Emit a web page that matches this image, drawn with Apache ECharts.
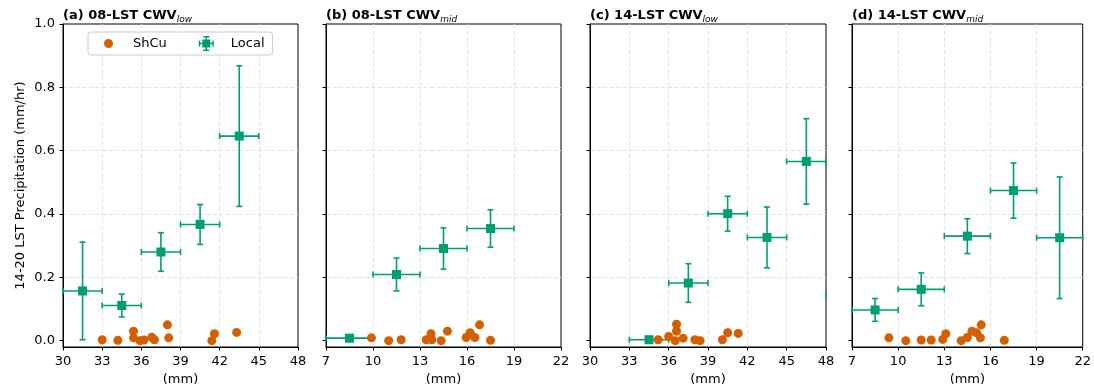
<!DOCTYPE html>
<html>
<head>
<meta charset="utf-8">
<script src="https://cdn.jsdelivr.net/npm/echarts@6/dist/echarts.min.js"></script>
<style>
html,body{margin:0;padding:0;background:#fff;}
#c{width:1094px;height:391px;}
</style>
</head>
<body>
<div id="c"></div>
<script>
// ---------------- data ----------------
const panelTitles = ['(a) 08-LST CWV', '(b) 08-LST CWV', '(c) 14-LST CWV', '(d) 14-LST CWV'];
const panelSubs = ['low', 'mid', 'low', 'mid'];
const xRanges = [[30, 48], [7, 22], [30, 48], [7, 22]];
const xStep = 3;
const yTickValues = [0, 0.2, 0.4, 0.6, 0.8, 1.0];
const yAxisName = '14-20 LST Precipitation (mm/hr)';
const xAxisName = '(mm)';
const legendNames = ['ShCu', 'Local'];

// ShCu points [x, y]
const shcuA = [[33.0,0.003],[34.2,0.001],[35.4,0.030],[35.4,0.009],[35.9,0.000],[36.2,0.002],[36.8,0.011],[37.0,0.003],[38.0,0.050],[38.1,0.009],[41.4,0.000],[41.6,0.022],[43.3,0.026]];
const shcuB = [[9.9,0.009],[11.0,0.000],[11.8,0.003],[13.4,0.003],[13.7,0.022],[13.75,0.003],[14.35,0.000],[14.75,0.030],[15.95,0.010],[16.2,0.025],[16.5,0.010],[16.8,0.050],[17.5,0.001]];
const shcuC = [[35.2,0.003],[36.0,0.013],[36.6,0.052],[36.6,0.030],[36.5,0.000],[37.1,0.008],[38.0,0.003],[38.4,0.000],[40.1,0.003],[40.5,0.025],[41.3,0.023]];
const shcuD = [[9.4,0.009],[10.5,0.000],[11.5,0.002],[12.15,0.002],[12.9,0.004],[13.1,0.022],[14.1,0.000],[14.5,0.010],[14.8,0.030],[15.1,0.025],[15.35,0.009],[15.4,0.050],[16.9,0.001]];

// Local bins: centre x, mean y, y error (half), x half-width
const localAX = [31.5, 34.5, 37.5, 40.5, 43.5];
const localAY = [0.157, 0.111, 0.280, 0.367, 0.646];
const localAYerr = [0.154, 0.036, 0.061, 0.063, 0.222];
const localBX = [8.5, 11.5, 14.5, 17.5];
const localBY = [0.008, 0.209, 0.291, 0.354];
const localBYerr = [0.003, 0.052, 0.065, 0.059];
const localCX = [34.5, 37.5, 40.5, 43.5, 46.5, 49.5];
const localCY = [0.003, 0.182, 0.401, 0.326, 0.566, 0.146];
const localCYerr = [0.003, 0.061, 0.055, 0.096, 0.135, 0.05];
const localDX = [8.5, 11.5, 14.5, 17.5, 20.5];
const localDY = [0.097, 0.162, 0.330, 0.474, 0.325];
const localDYerr = [0.036, 0.052, 0.055, 0.087, 0.192];
const xHalfWidth = 1.5;

// ---------------- chart ----------------
const FONT = 'DejaVu Sans';
const ORANGE = '#D55E00';
const GREEN = '#009E73';

const shcuSets = [shcuA, shcuB, shcuC, shcuD];
const localSets = [
  [localAX, localAY, localAYerr],
  [localBX, localBY, localBYerr],
  [localCX, localCY, localCYerr],
  [localDX, localDY, localDYerr]
];

const gridPos = [
  {left: 63, top: 24, width: 235, height: 323},
  {left: 326, top: 24, width: 235, height: 323},
  {left: 590, top: 24, width: 236, height: 323},
  {left: 852, top: 24, width: 235, height: 323}
];

function renderErr(params, api) {
  const cs = params.coordSys;
  const X0 = cs.x - 0.5, X1 = cs.x + cs.width + 0.5, Y0 = cs.y - 0.5, Y1 = cs.y + cs.height + 0.5;
  const x = api.value(0), y = api.value(1);
  const xl = api.value(2), xh = api.value(3), yl = api.value(4), yh = api.value(5);
  const pL = api.coord([xl, y]), pR = api.coord([xh, y]);
  const pB = api.coord([x, yl]), pT = api.coord([x, yh]);
  const c = 3;
  const st = {stroke: GREEN, lineWidth: 1.6};
  const ln = (x1, y1, x2, y2) => ({type: 'line', shape: {x1, y1, x2, y2}, style: st});
  const kids = [];
  const inX = v => v >= X0 && v <= X1;
  const inY = v => v >= Y0 && v <= Y1;
  // horizontal bar (clipped to plot)
  if (inY(pL[1])) {
    const a = Math.max(pL[0], X0 + 0.5), b = Math.min(pR[0], X1 - 0.5);
    if (b > a) kids.push(ln(a, pL[1], b, pL[1]));
    if (inX(pL[0])) kids.push(ln(pL[0], pL[1] - c, pL[0], pL[1] + c));
    if (inX(pR[0])) kids.push(ln(pR[0], pR[1] - c, pR[0], pR[1] + c));
  }
  if (inX(pB[0])) {
    kids.push(ln(pB[0], pB[1], pT[0], pT[1]));
    kids.push(ln(pB[0] - c, pB[1], pB[0] + c, pB[1]));
    kids.push(ln(pT[0] - c, pT[1], pT[0] + c, pT[1]));
  }
  return {type: 'group', children: kids};
}

const titles = panelTitles.map((t, i) => ({
  left: gridPos[i].left,
  top: 4,
  padding: 0,
  text: '{b|' + t + '}{s|' + panelSubs[i] + '}',
  textStyle: {
    rich: {
      b: {fontFamily: FONT, fontSize: 13, fontWeight: 'bold', color: '#000', lineHeight: 18, verticalAlign: 'bottom'},
      s: {fontFamily: FONT, fontSize: 9, fontWeight: 'normal', fontStyle: 'italic', color: '#000', lineHeight: 18, verticalAlign: 'bottom', padding: [0, 0, -2, 0]}
    }
  }
}));

const splitLineStyle = {show: true, showMinLine: false, showMaxLine: false,
  lineStyle: {color: '#e2e2e2', type: [4, 2.5], width: 1}};

const xAxes = xRanges.map((r, i) => ({
  type: 'value', gridIndex: i, min: r[0], max: r[1], interval: xStep,
  name: xAxisName, nameLocation: 'middle', nameGap: 26,
  nameTextStyle: {fontFamily: FONT, fontSize: 13, color: '#000'},
  axisLine: {show: true, onZero: false, lineStyle: {color: '#000', width: 1}},
  axisTick: {show: true, length: 3.5, lineStyle: {color: '#000'}},
  axisLabel: {fontFamily: FONT, fontSize: 13, color: '#000', margin: 8, showMinLabel: true, showMaxLabel: true},
  splitLine: splitLineStyle
}));

const yAxes = xRanges.map((r, i) => ({
  type: 'value', gridIndex: i, min: -0.02, max: 1.0, splitNumber: 5,
  name: i === 0 ? yAxisName : '', nameLocation: 'middle', nameGap: 36,
  nameTextStyle: {fontFamily: FONT, fontSize: 13, color: '#000'},
  axisLine: {show: true, onZero: false, lineStyle: {color: '#000', width: 1}},
  axisTick: {show: true, length: 3.5, lineStyle: {color: '#000'}, customValues: yTickValues},
  axisLabel: {show: i === 0, fontFamily: FONT, fontSize: 13, color: '#000', margin: 8,
              customValues: yTickValues, formatter: v => v.toFixed(1)},
  splitLine: splitLineStyle
}));

const series = [];
for (let i = 0; i < 4; i++) {
  const [lx, ly, le] = localSets[i];
  const errData = lx.map((x, k) => [x, ly[k], x - xHalfWidth, x + xHalfWidth, ly[k] - le[k], ly[k] + le[k]]);
  series.push({
    type: 'custom', name: legendNames[1], xAxisIndex: i, yAxisIndex: i,
    renderItem: renderErr, data: errData, encode: {x: 0, y: 1}, clip: false, z: 2,
    itemStyle: {color: GREEN}, silent: true
  });
  series.push({
    type: 'scatter', name: legendNames[1], xAxisIndex: i, yAxisIndex: i,
    data: lx.map((x, k) => [x, ly[k]]), symbol: 'rect', symbolSize: 9, clip: true, z: 3,
    itemStyle: {color: GREEN, opacity: 1}
  });
  series.push({
    type: 'scatter', name: legendNames[0], xAxisIndex: i, yAxisIndex: i,
    data: shcuSets[i], symbol: 'circle', symbolSize: 9, clip: true, z: 4,
    itemStyle: {color: ORANGE, opacity: 1}
  });
}

const circleIcon = 'path://M3,7.5 A4.5,4.5 0 1 0 12,7.5 A4.5,4.5 0 1 0 3,7.5 Z M0,0 L0.01,0 L0.01,0.01 L0,0.01 Z M15,15 L14.99,15 L14.99,14.99 L15,14.99 Z';
const localIcon = 'path://M3.5,3.5 L11.5,3.5 L11.5,11.5 L3.5,11.5 Z M0,6.8 L15,6.8 L15,8.2 L0,8.2 Z M6.8,0 L8.2,0 L8.2,15 L6.8,15 Z M0,4.5 L1.4,4.5 L1.4,10.5 L0,10.5 Z M13.6,4.5 L15,4.5 L15,10.5 L13.6,10.5 Z M4.5,0 L10.5,0 L10.5,1.4 L4.5,1.4 Z M4.5,13.6 L10.5,13.6 L10.5,15 L4.5,15 Z';

const option = {
  animation: false,
  backgroundColor: '#fff',
  title: titles,
  grid: gridPos.map(g => Object.assign({show: true, borderColor: '#000', borderWidth: 1, backgroundColor: 'transparent'}, g)),
  xAxis: xAxes,
  yAxis: yAxes,
  legend: {
    left: 88, top: 32, orient: 'horizontal',
    padding: [4, 8, 4, 13], itemWidth: 15, itemHeight: 15, itemGap: 32,
    borderColor: '#cccccc', borderWidth: 1, borderRadius: 3,
    backgroundColor: 'rgba(255,255,255,0.85)',
    textStyle: {fontFamily: FONT, fontSize: 13, color: '#000', padding: [0, 0, 0, 12]},
    selectedMode: false,
    data: [{name: legendNames[0], icon: circleIcon, itemStyle: {color: ORANGE}},
           {name: legendNames[1], icon: localIcon, itemStyle: {color: GREEN}}]
  },
  series: series
};

const chart = echarts.init(document.getElementById('c'), null, {renderer: 'canvas'});
chart.setOption(option);
</script>
</body>
</html>
